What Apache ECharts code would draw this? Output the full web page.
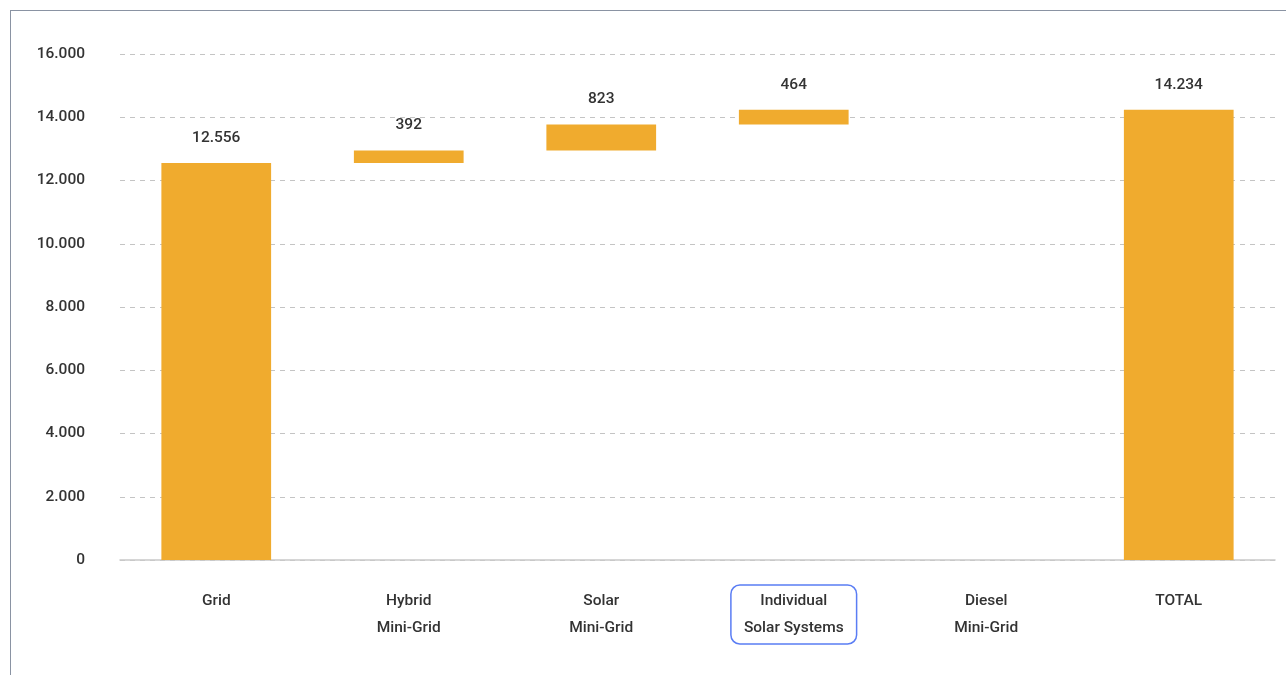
<!DOCTYPE html>
<html>
<head>
<meta charset="utf-8">
<title>Electrification waterfall</title>
<script src="https://cdn.jsdelivr.net/npm/echarts@6/dist/echarts.min.js"></script>
<style>
  html, body { margin: 0; padding: 0; background: #ffffff; }
  #frame {
    position: absolute; left: 10px; top: 10px; right: 0; bottom: 0;
    border-top: 1.5px solid #8a93a3; border-left: 1.5px solid #8a93a3;
  }
  #chart { position: absolute; left: 0; top: 0; width: 1286px; height: 675px; }
</style>
</head>
<body>
<div id="frame"></div>
<div id="chart"></div>
<script>
// Categories along the x axis (line breaks as drawn)
const categories = [
  'Grid',
  'Hybrid\nMini-Grid',
  'Solar\nMini-Grid',
  'Individual\nSolar Systems',
  'Diesel\nMini-Grid',
  'TOTAL'
];
// Contribution of each option; the last entry is the total
const increments = [12556, 392, 823, 464, 0, 14234];
// Index of the category whose label is outlined
const highlightIndex = 3;
// Value axis ticks
const yMin = 0, yMax = 16000, yStep = 2000;

// Invisible base for the floating steps, built from the running sum
const base = [];
let running = 0;
increments.forEach((v, i) => {
  if (i === 0 || i === increments.length - 1) {
    base.push(0);
  } else {
    base.push(running);
  }
  running += v;
});

const fmt = v => String(Math.round(v)).replace(/\B(?=(\d{3})+(?!\d))/g, '.');

const font = 'Roboto, "Noto Sans", sans-serif';
const textColor = '#333333';

const chart = echarts.init(document.getElementById('chart'), null, { renderer: 'canvas' });
chart.setOption({
  animation: false,
  textStyle: { fontFamily: font },
  grid: { left: 120, right: 11, top: 54, bottom: 115, containLabel: false },
  xAxis: {
    type: 'category',
    data: categories.map((c, i) => i === highlightIndex
      ? { value: c, textStyle: { borderColor: '#5a7df4', borderWidth: 1.5, borderRadius: 9 } }
      : c),
    axisTick: { show: false },
    axisLine: { lineStyle: { color: '#c9c9c9', width: 1.5 } },
    axisLabel: {
      interval: 0, margin: 25, color: textColor, fontSize: 15.5, fontWeight: 500,
      lineHeight: 27, padding: [3, 13, 2, 13], fontFamily: font
    }
  },
  yAxis: {
    type: 'value', min: yMin, max: yMax, interval: yStep,
    axisLine: { show: false }, axisTick: { show: false },
    axisLabel: { color: textColor, fontSize: 15.5, fontWeight: 500, margin: 35, formatter: fmt, fontFamily: font },
    splitLine: { lineStyle: { color: '#c4c4c4', type: [5, 5], width: 1 } }
  },
  series: [
    {
      type: 'bar', stack: 'w', data: base, barWidth: '57%',
      itemStyle: { color: 'transparent' }, silent: true
    },
    {
      type: 'bar', stack: 'w', data: increments, barWidth: '57%',
      itemStyle: { color: '#f0ab2e' },
      label: {
        show: true, position: 'top', distance: 17, color: textColor,
        fontSize: 15.5, fontWeight: 500, fontFamily: font,
        formatter: p => p.value ? fmt(p.value) : ''
      }
    }
  ]
});
</script>
</body>
</html>
